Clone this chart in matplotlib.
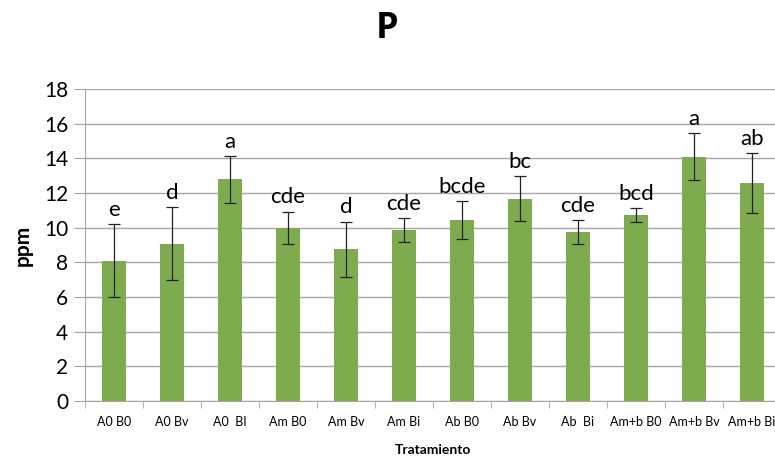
import numpy as np
import matplotlib
matplotlib.use('Agg')
import matplotlib.pyplot as plt

plt.rcParams['font.family'] = ['Lato', 'DejaVu Sans']

tratamientos = ['A0 B0', 'A0 Bv', 'A0  BI', 'Am B0', 'Am Bv', 'Am Bi',
                'Ab B0', 'Ab Bv', 'Ab  Bi', 'Am+b B0', 'Am+b Bv', 'Am+b Bi']
ppm = [8.1, 9.08, 12.79, 9.98, 8.75, 9.87, 10.44, 11.67, 9.75, 10.73, 14.1, 12.56]
err = [2.1, 2.1, 1.35, 0.95, 1.6, 0.68, 1.07, 1.3, 0.7, 0.42, 1.37, 1.73]
letras = ['e', 'd', 'a', 'cde', 'd', 'cde', 'bcde', 'bc', 'cde', 'bcd', 'a', 'ab']

grid_col = '#a6a6a6'

fig = plt.figure(figsize=(7.75, 4.59), dpi=100)
ax = fig.add_axes([0.1097, 0.1264, 0.898, 0.6797])

x = np.arange(len(tratamientos))
ax.bar(x, ppm, width=0.42, color='#7fab4f', zorder=2)
ax.errorbar(x, ppm, yerr=err, fmt='none', ecolor='#222222', elinewidth=0.9,
            capsize=4.5, capthick=0.9, zorder=3)

for i, lab in enumerate(letras):
    ax.annotate(lab, (x[i], ppm[i] + err[i]), xytext=(0, 3), textcoords='offset points',
                ha='center', va='bottom', fontsize=16)

ax.set_xlim(-0.5, len(tratamientos) - 0.5)
ax.set_ylim(0, 18)
ax.set_yticks(np.arange(0, 19, 2))
ax.yaxis.grid(True, color=grid_col, linewidth=1, zorder=0)
ax.set_axisbelow(True)

ax.set_xticks(x)
ax.set_xticklabels(tratamientos, fontsize=9)
ax.set_xticks(np.arange(-0.5, len(tratamientos)), minor=True)
ax.tick_params(axis='x', which='major', length=0, pad=11)
ax.tick_params(axis='x', which='minor', length=5, color=grid_col)
ax.tick_params(axis='y', length=8, color=grid_col, labelsize=15, pad=4)

for s in ['top', 'right']:
    ax.spines[s].set_visible(False)
for s in ['left', 'bottom']:
    ax.spines[s].set_color(grid_col)

ax.set_ylabel('ppm', fontsize=15, fontweight='bold', labelpad=8)
ax.set_xlabel('Tratamiento', fontsize=10, fontweight='bold', labelpad=11)
fig.text(0.5, 0.937, 'P', fontsize=26, fontweight='bold', ha='center', va='center',
         family=['Open Sans', 'DejaVu Sans'])

fig.savefig('out.png', dpi=100)
